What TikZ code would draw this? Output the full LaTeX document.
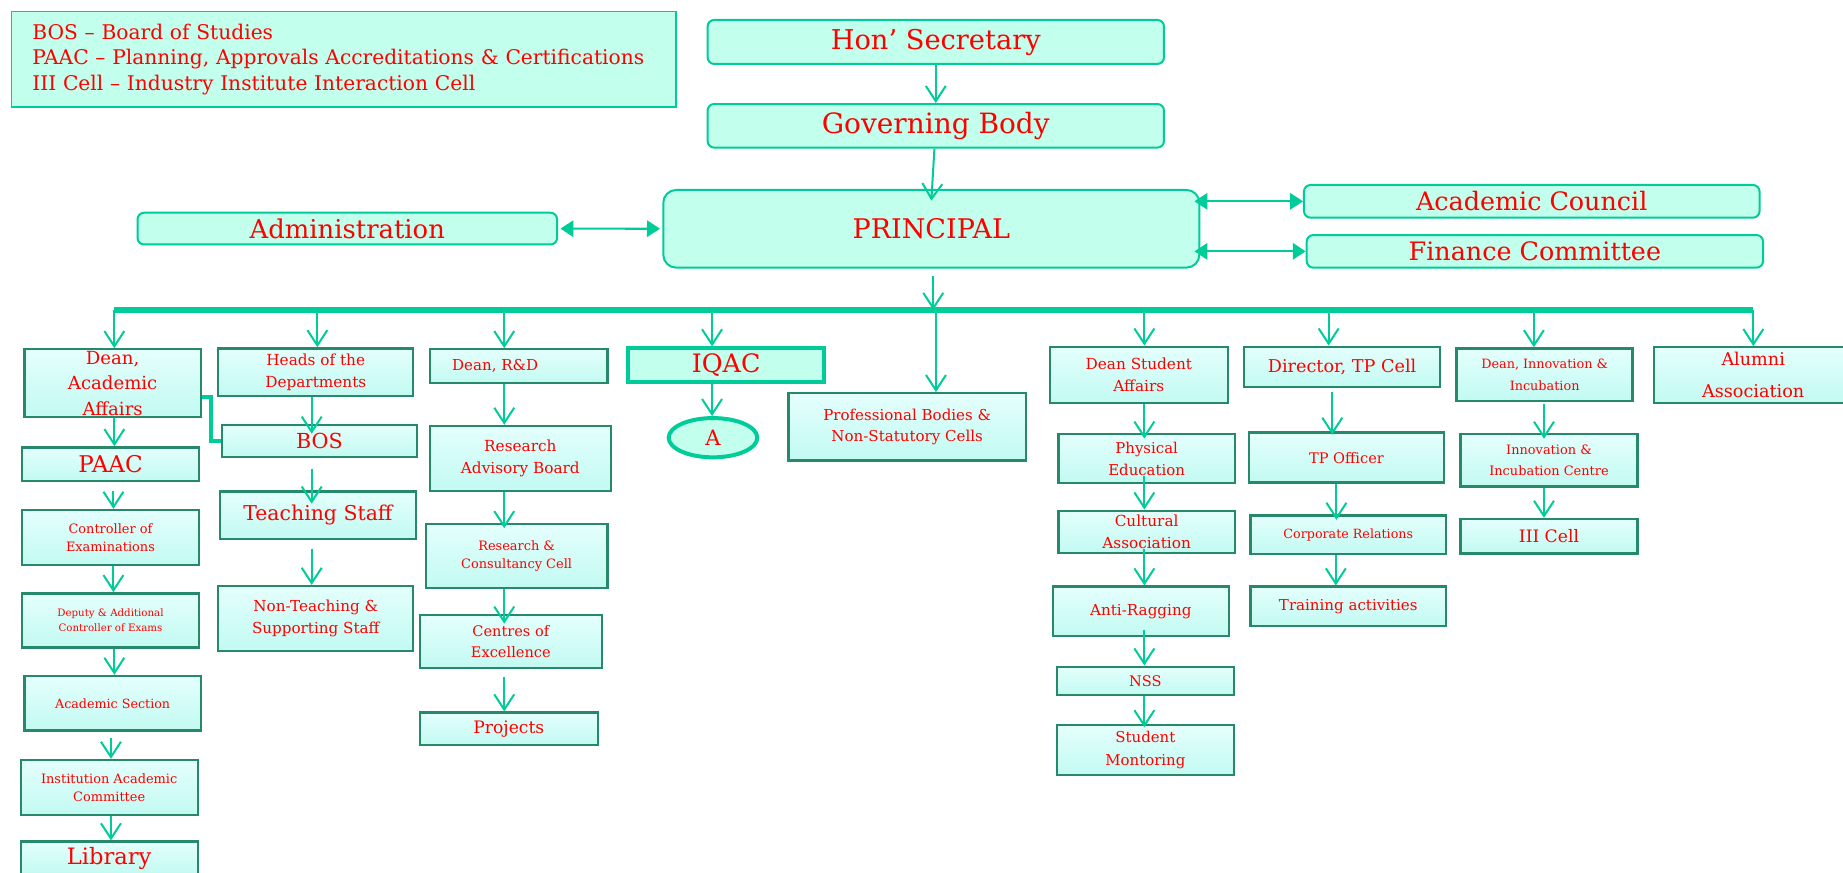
\documentclass[tikz,border=0pt]{standalone}
\usepackage{fontspec}
\setmainfont{DejaVu Serif}
\usetikzlibrary{arrows.meta,positioning,shapes}
\definecolor{lgreen}{RGB}{0,204,153}
\definecolor{mint}{RGB}{194,255,236}
\definecolor{celltop}{RGB}{228,255,252}
\definecolor{cellbot}{RGB}{194,250,242}
\definecolor{cellline}{RGB}{38,138,106}
\newcommand{\fsz}[2]{\fontsize{#1}{#2}\selectfont}

\begin{document}
\begin{tikzpicture}[
  x=0.5pt, y=-0.5pt,
  every node/.style={text=red, align=center, inner sep=0pt},
  boxat/.style n args={4}{at={({(#1+#3)/2},{(#2+#4)/2})}, minimum width={(#3-#1)*0.5pt}, minimum height={(#4-#2)*0.5pt}},
  headbox/.style={draw=lgreen, line width=0.85pt, fill=mint, rounded corners=2.8pt},
  unitbox/.style={draw=cellline, line width=1pt, top color=celltop, bottom color=cellbot},
  ring/.style={draw=lgreen, line width=1.7pt, fill=mint},
  arr/.style={draw=lgreen, line width=0.85pt, -{Straight Barb[length=6.5pt,width=8.5pt]}},
  dbl/.style={draw=lgreen, line width=0.9pt, {Triangle[length=5.5pt,width=7pt]}-{Triangle[length=5.5pt,width=7pt]}},
  busline/.style={draw=lgreen, line width=2.5pt},
  elbow/.style={draw=lgreen, line width=1.7pt}
]
\useasboundingbox (0,0) rectangle (1568,742);
\clip (0,0) rectangle (1568,742);

\node[draw=lgreen, line width=0.6pt, fill=mint, boxat={10}{10}{575}{91}, text width=265pt, align=left, font=\fsz{8.6}{10.75}] (Legend) {BOS -- Board of Studies\\PAAC -- Planning, Approvals Accreditations \& Certifications\\III Cell -- Industry Institute Interaction Cell};

\node[headbox, boxat={602}{17}{990.3}{54.4}, font=\fsz{11.6}{13}] (Hon) {Hon' Secretary};
\node[headbox, boxat={602}{88.5}{990.3}{125.6}, font=\fsz{11.9}{13}] (Gov) {Governing Body};
\node[headbox, rounded corners=5.5pt, boxat={564.3}{161.6}{1020.4}{227.7}, font=\fsz{11.5}{13}] (Principal) {PRINCIPAL};
\node[headbox, boxat={117}{181}{474}{208}, font=\fsz{11}{13}] (Admin) {Administration};
\node[headbox, boxat={1109.4}{157.4}{1497}{185.2}, font=\fsz{10.8}{13}] (Council) {Academic Council};
\node[headbox, boxat={1111.7}{200}{1500}{227.7}, font=\fsz{10.8}{13}] (Finance) {Finance Committee};

\node[unitbox, boxat={20.7}{297.2}{171}{355}, font=\fsz{7.7}{10.85}] (DeanAA) {Dean,\\Academic\\Affairs};
\node[unitbox, boxat={18.7}{380.6}{169.3}{409.5}, font=\fsz{9.8}{11}] (PAAC) {PAAC};
\node[unitbox, boxat={18.7}{433.9}{169.3}{480.7}, font=\fsz{5.5}{7.7}] (CoExam) {Controller of\\Examinations};
\node[unitbox, boxat={18.7}{504.8}{169.3}{551}, font=\fsz{4.35}{6.4}] (DyExam) {Deputy \& Additional\\Controller of Exams};
\node[unitbox, boxat={20.7}{575.1}{171}{621.6}, font=\fsz{5.4}{7}] (AcadSec) {Academic Section};
\node[unitbox, boxat={17.6}{646.6}{168.2}{693.4}, font=\fsz{5.5}{7.8}] (InstCom) {Institution Academic\\Committee};
\node[unitbox, boxat={17.6}{716}{168.2}{744}, font=\fsz{9.6}{11}] (Library) {Library};

\node[unitbox, boxat={185.7}{296.4}{351.6}{336.9}, font=\fsz{6.5}{9.2}] (HoD) {Heads of the\\Departments};
\node[unitbox, boxat={188.6}{361.6}{355}{389}, font=\fsz{8.8}{11}] (BOS) {BOS};
\node[unitbox, boxat={187.2}{418.3}{353.7}{458.8}, font=\fsz{8.7}{10}] (TStaff) {Teaching Staff};
\node[unitbox, boxat={185.7}{498.6}{351.6}{553.6}, font=\fsz{6.45}{9.5}] (NTStaff) {Non-Teaching \&\\Supporting Staff};

\node[unitbox, boxat={365.8}{297.2}{516.7}{325.6}, font=\fsz{6.4}{8}] (DeanRD) {Dean, R\&D\hspace*{20pt}};
\node[unitbox, boxat={365.8}{362.4}{519.6}{417.5}, font=\fsz{6.5}{9.5}] (RAB) {Research\\Advisory Board};
\node[unitbox, boxat={362.4}{445.8}{516.7}{500.5}, font=\fsz{5.5}{7.8}] (RCC) {Research \&\\Consultancy Cell};
\node[unitbox, boxat={357.3}{523.2}{511.9}{568.6}, font=\fsz{6.2}{9.2}] (CoE) {Centres of\\Excellence};
\node[unitbox, boxat={357.3}{606.3}{508.5}{633.8}, font=\fsz{7.3}{9}] (Projects) {Projects};

\node[ring, boxat={534.6}{296.4}{701}{324.7}, font=\fsz{10.8}{12}] (IQAC) {IQAC};
\node[ring, ellipse, minimum width=37.7pt, minimum height=16.7pt, font=\fsz{9}{10}] (A) at (606.6,372.4) {A};

\node[unitbox, boxat={670.7}{334.6}{872.9}{391.9}, font=\fsz{6.4}{9.2}] (ProfBodies) {Professional Bodies \&\\Non-Statutory Cells};

\node[unitbox, boxat={893.3}{295}{1044.5}{342.6}, font=\fsz{6.5}{9.2}] (DeanSA) {Dean Student\\Affairs};
\node[unitbox, boxat={900.4}{369.2}{1050.7}{411.2}, font=\fsz{6.35}{9.4}] (PhysEd) {Physical\\Education};
\node[unitbox, boxat={900.4}{434.5}{1050.7}{470.7}, font=\fsz{6.5}{9.2}] (Cultural) {Cultural\\Association};
\node[unitbox, boxat={895.6}{499.1}{1045.6}{541.1}, font=\fsz{6.45}{8}] (AntiRag) {Anti-Ragging};
\node[unitbox, boxat={899}{567.2}{1049.9}{591.3}, font=\fsz{6.2}{8}] (NSS) {NSS};
\node[unitbox, boxat={899}{616.8}{1049.9}{659.4}, font=\fsz{6.35}{9.5}] (Mentor) {Student\\Montoring};

\node[unitbox, boxat={1058.6}{295}{1225.1}{329.5}, font=\fsz{7.5}{9}] (DirTP) {Director, TP Cell};
\node[unitbox, boxat={1062.6}{368.1}{1228.5}{410.6}, font=\fsz{6.2}{8}] (TPOff) {TP Officer};
\node[unitbox, boxat={1064}{438.7}{1230.2}{471.3}, font=\fsz{5.4}{7}] (Corporate) {Corporate Relations};
\node[unitbox, boxat={1064}{499.1}{1230.2}{532.6}, font=\fsz{6.4}{8}] (Training) {Training activities};

\node[unitbox, boxat={1239.3}{296.4}{1389}{340.9}, font=\fsz{5.45}{9.3}] (DeanInn) {Dean, Innovation \&\\Incubation};
\node[unitbox, boxat={1242.7}{369.5}{1393}{414}, font=\fsz{5.5}{9}] (IncCentre) {Innovation \&\\Incubation Centre};
\node[unitbox, boxat={1242.7}{441.6}{1393}{470.8}, font=\fsz{7.3}{9}] (IIICell) {III Cell};
\node[unitbox, boxat={1407.2}{295.5}{1576}{342.6}, font=\fsz{7.5}{13.3}] (Alumni) {Alumni\\Association};

\coordinate (Bus) at (794,263.7);
\coordinate (BusL) at (97.3,263.7);
\coordinate (BusR) at (1491.7,263.7);

\draw[arr] (Hon) -- (Gov);
\draw[arr] (Gov) -- ([yshift=-5pt]Principal.north);
\draw[arr, shorten <=3pt] (Principal.south -| Bus) -- (Bus);
\draw[dbl, shorten <=1pt, shorten >=1pt] (Admin) -- (Principal);
\draw[dbl, shorten <=-2.5pt] (Principal.east |- Council) -- (Council);
\draw[dbl, shorten <=-2.5pt] (Principal.east |- Finance) -- (Finance);

\foreach \x/\t in {97.3/DeanAA, 270/HoD, 429/DeanRD, 605.8/IQAC, 796.3/ProfBodies, 973.6/DeanSA, 1130.4/DirTP, 1305/DeanInn, 1491.7/Alumni}
  \draw[arr] (Bus -| \x,0) -- (\t.north -| \x,0);
\draw[busline] (BusL) -- (BusR);

\draw[arr] (DeanAA.south -| 97.3,0) -- (PAAC.north -| 97.3,0);
\draw[arr, shorten <=3.7pt] (PAAC.south -| 96.5,0) -- (CoExam.north -| 96.5,0);
\draw[arr] (CoExam.south -| 96.5,0) -- (DyExam.north -| 96.5,0);
\draw[arr] (DyExam.south -| 97.3,0) -- (AcadSec.north -| 97.3,0);
\draw[arr, shorten <=2.5pt] (AcadSec.south -| 94.4,0) -- (InstCom.north -| 94.4,0);
\draw[arr] (InstCom.south -| 94.4,0) -- (Library.north -| 94.4,0);
\draw[elbow] (DeanAA.east |- 0,337.5) -- ++(7.7,0) |- (BOS.west);

\draw[arr, shorten >=-4.2pt] (HoD.south -| 265.2,0) -- (BOS.north -| 265.2,0);
\draw[arr, shorten <=4.5pt, shorten >=-5.6pt] (BOS.south -| 265.2,0) -- (TStaff.north -| 265.2,0);
\draw[arr, shorten <=3.5pt] (TStaff.south -| 265.2,0) -- (NTStaff.north -| 265.2,0);

\draw[arr] (DeanRD.south -| 429,0) -- (RAB.north -| 429,0);
\draw[arr, shorten >=-2.3pt] (RAB.south -| 429,0) -- (RCC.north -| 429,0);
\draw[arr, shorten >=-4.2pt] (RCC.south -| 429,0) -- (CoE.north -| 429,0);
\draw[arr, shorten <=3.2pt] (CoE.south -| 429,0) -- (Projects.north -| 429,0);

\draw[arr] (IQAC.south -| 605.8,0) -- (A.north -| 605.8,0);

\draw[arr, shorten >=-2.5pt] (DeanSA.south -| 973.6,0) -- (PhysEd.north -| 973.6,0);
\draw[arr, shorten <=-3.5pt] (PhysEd.south -| 973.6,0) -- (Cultural.north -| 973.6,0);
\draw[arr, shorten <=-2.1pt] (Cultural.south -| 973.6,0) -- (AntiRag.north -| 973.6,0);
\draw[arr, shorten <=-3.2pt] (AntiRag.south -| 973.6,0) -- (NSS.north -| 973.6,0);
\draw[arr, shorten >=-1.5pt] (NSS.south -| 973.6,0) -- (Mentor.north -| 973.6,0);

\draw[arr, shorten <=1.5pt, shorten >=-1.4pt] (DirTP.south -| 1133.5,0) -- (TPOff.north -| 1133.5,0);
\draw[arr, shorten >=-2.3pt] (TPOff.south -| 1137,0) -- (Corporate.north -| 1137,0);
\draw[arr] (Corporate.south -| 1136.5,0) -- (Training.north -| 1136.5,0);

\draw[arr, shorten <=1pt, shorten >=-2.4pt] (DeanInn.south -| 1313.6,0) -- (IncCentre.north -| 1313.6,0);
\draw[arr] (IncCentre.south -| 1313.6,0) -- (IIICell.north -| 1313.6,0);

\end{tikzpicture}
\end{document}
